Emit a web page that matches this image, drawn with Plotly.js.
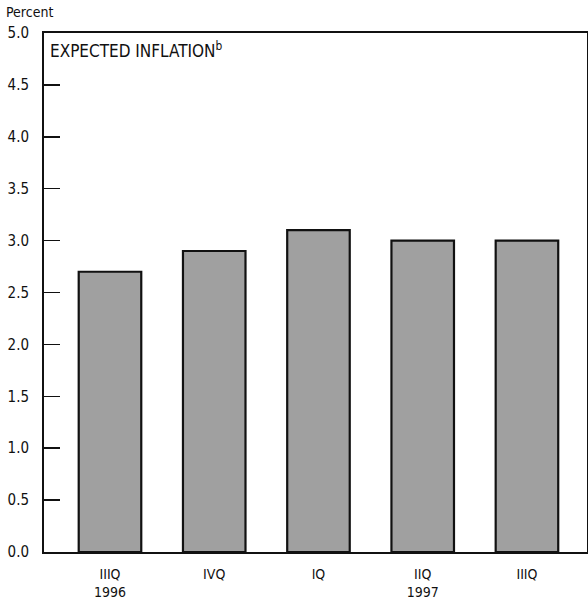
<!DOCTYPE html>
<html>
<head>
<meta charset="utf-8">
<script src="https://cdn.plot.ly/plotly-3.0.1.min.js"></script>
<style>html,body{margin:0;padding:0;background:#fff;}#chart{width:588px;height:602px;}</style>
</head>
<body>
<div id="chart"></div>
<script>
var quarters = ["IIIQ", "IVQ", "IQ", "IIQ", "IIIQ"];
var years = ["1996", "", "", "1997", ""];
var inflation = [2.7, 2.9, 3.1, 3.0, 3.0];
var yTicks = [0, 0.5, 1, 1.5, 2, 2.5, 3, 3.5, 4, 4.5, 5];
var yTickText = ["0.0", "0.5", "1.0", "1.5", "2.0", "2.5", "3.0", "3.5", "4.0", "4.5", "5.0"];

var FONT = "'Liberation Sans Narrow', 'DejaVu Sans Condensed', 'Arial Narrow', sans-serif";
var xIdx = quarters.map(function (_, i) { return i; });
var xText = quarters.map(function (q, i) { return years[i] ? q + "<br>" + years[i] : q; });

var trace = {
  type: "bar",
  x: xIdx,
  y: inflation,
  width: 0.6,
  marker: { color: "#a0a0a0", line: { color: "#111", width: 2.2 } },
  hoverinfo: "skip"
};

var layout = {
  width: 588, height: 602,
  margin: { l: 44, r: 1, t: 33, b: 50 },
  paper_bgcolor: "#fff", plot_bgcolor: "#fff",
  showlegend: false,
  font: { family: FONT, color: "#111", size: 14 },
  xaxis: {
    range: [-0.633, 4.576],
    tickvals: xIdx, ticktext: xText,
    ticks: "", showgrid: false, zeroline: false,
    showline: true, linecolor: "#111", linewidth: 2, mirror: true,
    ticklabelstandoff: 8,
    tickfont: { size: 14, family: FONT }, fixedrange: true
  },
  yaxis: {
    range: [0, 5],
    tickvals: yTicks, ticktext: yTickText,
    ticks: "inside", ticklen: 16, tickwidth: 1.5, tickcolor: "#111",
    showgrid: false, zeroline: false,
    showline: true, linecolor: "#111", linewidth: 2, mirror: true,
    ticklabelstandoff: 10,
    tickfont: { size: 15, family: FONT }, fixedrange: true
  },
  annotations: [
    { xref: "paper", yref: "paper", x: 0.008, y: 0.992, xanchor: "left", yanchor: "top",
      text: "EXPECTED INFLATION<sup>b</sup>", showarrow: false,
      font: { size: 17, family: FONT, color: "#111" } },
    { xref: "paper", yref: "paper", x: -0.074, y: 1.022, xanchor: "left", yanchor: "bottom",
      text: "Percent", showarrow: false,
      font: { size: 14, family: FONT, color: "#111" } }
  ]
};

Plotly.newPlot("chart", [trace], layout, { displayModeBar: false, staticPlot: true });
</script>
</body>
</html>
